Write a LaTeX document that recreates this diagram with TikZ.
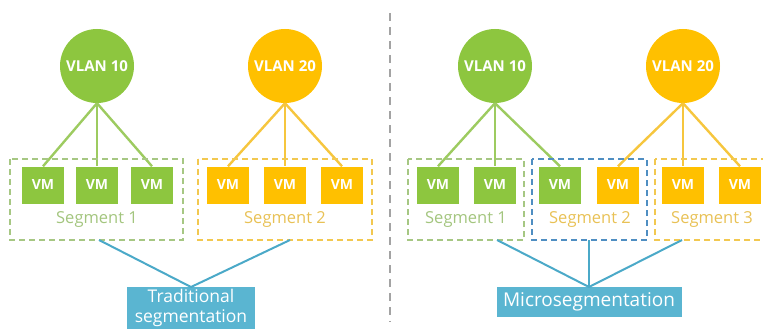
\documentclass[tikz,border=0pt]{standalone}
\usepackage{fontspec}
\setmainfont{Open Sans}
\definecolor{vgreen}{HTML}{8DC63F}
\definecolor{vyellow}{HTML}{FFC000}
\definecolor{lgreen}{HTML}{9DCB60}
\definecolor{lyellow}{HTML}{F6C63E}
\definecolor{dgreen}{HTML}{A6C783}
\definecolor{dyellow}{HTML}{F2C850}
\definecolor{tgreen}{HTML}{A3C57E}
\definecolor{tyellow}{HTML}{E8C155}
\definecolor{dblue}{HTML}{4F8EC2}
\definecolor{lblue}{HTML}{4BA9C8}
\definecolor{fblue}{HTML}{5AB5D1}
\definecolor{divgray}{HTML}{A3A3A3}
\tikzset{
  vlan/.style={circle, minimum size=74pt, inner sep=0pt, text=white,
    font=\fontsize{15}{17}\selectfont\bfseries},
  vm/.style={rectangle, minimum width=42pt, minimum height=37pt, inner sep=0pt,
    text=white, font=\fontsize{14}{16}\selectfont\bfseries},
  segbox/.style={draw, dash pattern=on 6pt off 4pt, line width=1.8pt},
  seglabel/.style={font=\fontsize{16.5}{18}\selectfont},
  link/.style={line width=2.4pt},
  catlabel/.style={rectangle, fill=fblue, text=white, inner sep=0pt,
    align=center},
}
\begin{document}
\begin{tikzpicture}[x=1pt,y=-1pt]
\useasboundingbox (0,0) rectangle (763,329);
\clip (0,0) rectangle (763,329);

% ---- traditional segmentation ----
\node[vlan, fill=vgreen]  (lc1) at (97,66)  {VLAN 10};
\node[vlan, fill=vyellow] (lc2) at (285,66) {VLAN 20};

\node[vm, fill=vgreen]  (lv1) at (43,185)  {VM};
\node[vm, fill=vgreen]  (lv2) at (97,185)  {VM};
\node[vm, fill=vgreen]  (lv3) at (152,185) {VM};
\node[vm, fill=vyellow] (lv4) at (228,185) {VM};
\node[vm, fill=vyellow] (lv5) at (285,185) {VM};
\node[vm, fill=vyellow] (lv6) at (342,185) {VM};

\foreach \v in {lv1,lv2,lv3} \draw[link, lgreen] (lc1.south) -- (\v.north);
\foreach \v in {lv4,lv5,lv6} \draw[link, lyellow] (lc2.south) -- (\v.north);

\draw[segbox, dgreen]  (10,159) rectangle (183,240);
\draw[segbox, dyellow] (198,159) rectangle (372,240);
\coordinate (ls1) at (99,240);
\coordinate (ls2) at (290,240);
\node[seglabel, text=tgreen]  at (97,220)  {Segment 1};
\node[seglabel, text=tyellow] at (285,220) {Segment 2};

\node[catlabel, anchor=north, minimum width=128pt, inner ysep=2.5pt,
  font=\fontsize{17.5}{19.5}\selectfont]
  (lab1) at (191,287) {Traditional\\segmentation};
\draw[link, lblue, line width=2pt] (ls1) -- (lab1.north);
\draw[link, lblue, line width=2pt] (ls2) -- (lab1.north);

% ---- divider ----
\coordinate (dtop) at (390,13);
\coordinate (dbot) at (390,322);
\draw[divgray, line width=1.6pt, dash pattern=on 8pt off 6pt] (dtop) -- (dbot);

% ---- microsegmentation ----
\node[vlan, fill=vgreen]  (rc1) at (495,66) {VLAN 10};
\node[vlan, fill=vyellow] (rc2) at (683,66) {VLAN 20};

\node[vm, fill=vgreen]  (rv1) at (438,185) {VM};
\node[vm, fill=vgreen]  (rv2) at (495,185) {VM};
\node[vm, fill=vgreen]  (rv3) at (560,185) {VM};
\node[vm, fill=vyellow] (rv4) at (618,185) {VM};
\node[vm, fill=vyellow] (rv5) at (683,185) {VM};
\node[vm, fill=vyellow] (rv6) at (740,185) {VM};

\foreach \v in {rv1,rv2,rv3} \draw[link, lgreen] (rc1.south) -- (\v.north);
\foreach \v in {rv4,rv5,rv6} \draw[link, lyellow] (rc2.south) -- (\v.north);

\draw[segbox, dgreen]  (408,159) rectangle (524,240);
\draw[segbox, dblue]   (532,159) rectangle (647,240);
\draw[segbox, dyellow] (655,159) rectangle (790,240);
\coordinate (rs1) at (497,240);
\coordinate (rs2) at (589,240);
\coordinate (rs3) at (682,240);
\node[seglabel, text=tgreen]  at (466,220) {Segment 1};
\node[seglabel, text=tyellow] at (590,220) {Segment 2};
\node[seglabel, text=tyellow] at (712,220) {Segment 3};

\node[catlabel, anchor=north, minimum width=185pt, minimum height=30pt,
  font=\fontsize{19}{22}\selectfont]
  (lab2) at (589,287) {Microsegmentation};
\foreach \s in {rs1,rs2,rs3} \draw[link, lblue, line width=2pt] (\s) -- (lab2.north);
\end{tikzpicture}
\end{document}
